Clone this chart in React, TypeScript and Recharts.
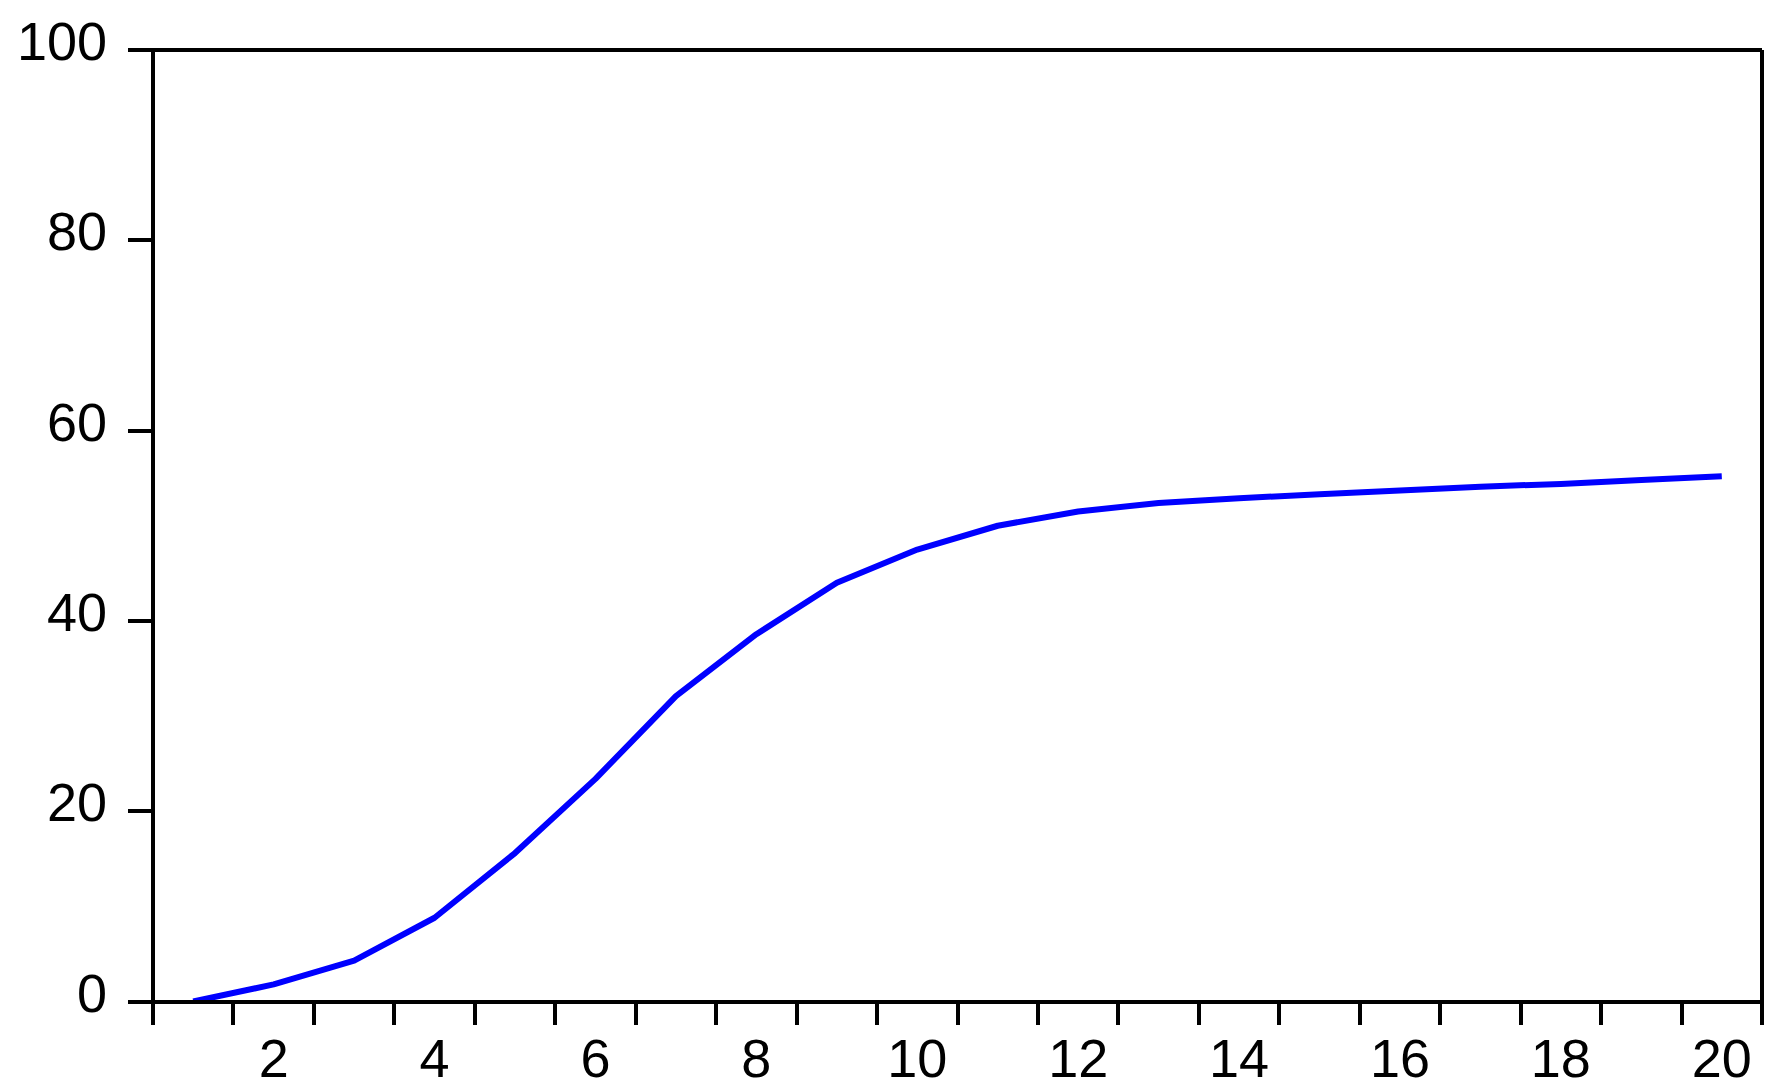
import React from 'react';
import { LineChart, Line, XAxis, YAxis, ReferenceLine } from 'recharts';

const periods: number[] = [1, 2, 3, 4, 5, 6, 7, 8, 9, 10, 11, 12, 13, 14, 15, 16, 17, 18, 19, 20];
const values: number[] = [0, 1.8, 4.3, 8.8, 15.6, 23.4, 32.1, 38.6, 44.0, 47.5, 50.0, 51.5, 52.4, 52.9, 53.3, 53.7, 54.1, 54.4, 54.8, 55.2];
const yTicks: number[] = [0, 20, 40, 60, 80, 100];
const xBoundaryTicks: number[] = [0.5, 1.5, 2.5, 3.5, 4.5, 5.5, 6.5, 7.5, 8.5, 9.5, 10.5, 11.5, 12.5, 13.5, 14.5, 15.5, 16.5, 17.5, 18.5, 19.5, 20.5];
const xLabelTicks: number[] = [2, 4, 6, 8, 10, 12, 14, 16, 18, 20];

const data = periods.map((p, i) => ({ period: p, value: values[i] }));

const FONT = '"Liberation Sans", Arial, sans-serif';
const AX = 4;

const XTick = (props: any) => {
  const { x, y, payload } = props;
  const v = payload.value;
  if (v % 1 !== 0) {
    return <line x1={x} x2={x} y1={y} y2={y + 23} stroke="#000" strokeWidth={AX} shapeRendering="crispEdges" />;
  }
  return (
    <text x={x} y={y + 75} textAnchor="middle" fontSize={54} fontFamily={FONT} fill="#000">
      {v}
    </text>
  );
};

const YTick = (props: any) => {
  const { x, y, payload } = props;
  return (
    <g>
      <line x1={x - 25} x2={x} y1={y} y2={y} stroke="#000" strokeWidth={AX} shapeRendering="crispEdges" />
      <text x={x - 46} y={y + 10} textAnchor="end" fontSize={54} fontFamily={FONT} fill="#000">
        {payload.value}
      </text>
    </g>
  );
};

export default function App() {
  return (
    <div style={{ position: 'absolute', left: 0, top: 0, background: '#fff' }}>
      <LineChart width={1780} height={1091} data={data} margin={{ top: 50, right: 18, bottom: 0, left: 0 }}>
        <XAxis
          dataKey="period"
          type="number"
          domain={[0.5, 20.5]}
          ticks={[...xBoundaryTicks, ...xLabelTicks]}
          interval={0}
          height={89.5}
          tickSize={0}
          tickMargin={0}
          tickLine={false}
          tick={<XTick />}
          axisLine={{ stroke: '#000', strokeWidth: AX, shapeRendering: 'crispEdges' }}
          allowDataOverflow
        />
        <YAxis
          type="number"
          domain={[0, 100]}
          ticks={yTicks}
          interval={0}
          width={153}
          tickSize={0}
          tickMargin={0}
          tickLine={false}
          tick={<YTick />}
          axisLine={{ stroke: '#000', strokeWidth: AX, shapeRendering: 'crispEdges' }}
          allowDataOverflow
        />
        <ReferenceLine y={100} stroke="#000" strokeWidth={AX} ifOverflow="visible" shapeRendering="crispEdges" />
        <ReferenceLine x={20.5} stroke="#000" strokeWidth={AX} ifOverflow="visible" shapeRendering="crispEdges" />
        <Line
          type="linear"
          dataKey="value"
          stroke="#0000FF"
          strokeWidth={6}
          strokeLinejoin="round"
          dot={false}
          activeDot={false}
          isAnimationActive={false}
        />
      </LineChart>
    </div>
  );
}
